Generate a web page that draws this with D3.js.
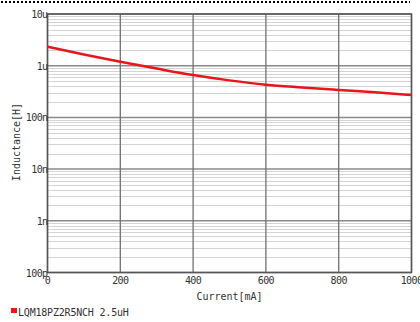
<!DOCTYPE html>
<html><head><meta charset="utf-8">
<script src="https://cdn.jsdelivr.net/npm/d3@7"></script>
<style>body{margin:0;background:#fff}svg{display:block}text{font-family:"DejaVu Sans Mono","Liberation Mono",monospace;fill:#333}</style>
</head><body><svg id="c" width="420" height="322"></svg>
<script>
const currents = [0, 100, 200, 300, 400, 500, 600, 700, 800, 900, 1000];
const inductance = [2.33e-6, 1.65e-6, 1.19e-6, 0.88e-6, 0.66e-6, 0.52e-6, 0.43e-6, 0.38e-6, 0.34e-6, 0.305e-6, 0.27e-6];
const xTicks = [0, 200, 400, 600, 800, 1000];
const yTicks = [1e-10, 1e-9, 1e-8, 1e-7, 1e-6, 1e-5];
const yTickLabels = ["100p", "1n", "10n", "100n", "1u", "10u"];
const seriesName = "LQM18PZ2R5NCH 2.5uH";

const svg = d3.select("#c");
const L = 47.5, R = 411.5, T = 14, B = 272.5;
const x = d3.scaleLinear().domain([0, 1000]).range([L, R]);
const y = d3.scaleLog().domain([1e-10, 1e-5]).range([B, T]);

// top dotted line
svg.append("line").attr("x1", 1).attr("x2", 410).attr("y1", 2).attr("y2", 2)
  .attr("stroke", "#000").attr("stroke-width", 2).attr("stroke-dasharray", "2,2");

// minor grid
const minor = [];
for (let e = -10; e < -5; e++) for (let m = 2; m <= 9; m++) minor.push(m * Math.pow(10, e));
svg.append("g").selectAll("line").data(minor).join("line")
  .attr("x1", L).attr("x2", R).attr("y1", d => Math.round(y(d)) + 0.5).attr("y2", d => Math.round(y(d)) + 0.5)
  .attr("stroke", "#d4d4d4").attr("stroke-width", 1);
// major grid
svg.append("g").selectAll("line").data(yTicks).join("line")
  .attr("x1", L).attr("x2", R).attr("y1", d => y(d)).attr("y2", d => y(d))
  .attr("stroke", "#8a8a8a").attr("stroke-width", 1.5);
svg.append("g").selectAll("line").data(xTicks).join("line")
  .attr("y1", T).attr("y2", B).attr("x1", d => x(d)).attr("x2", d => x(d))
  .attr("stroke", "#707070").attr("stroke-width", 1.3);
// frame
svg.append("rect").attr("x", L).attr("y", T).attr("width", R - L).attr("height", B - T)
  .attr("fill", "none").attr("stroke", "#555").attr("stroke-width", 1.5);

// axes labels
svg.append("g").selectAll("text").data(yTicks).join("text")
  .attr("x", L).attr("y", d => y(d) + 4).attr("text-anchor", "end")
  .attr("font-size", 10).attr("letter-spacing", -0.6).text((d, i) => yTickLabels[i]);
svg.append("g").selectAll("text").data(xTicks).join("text")
  .attr("x", d => x(d)).attr("y", B + 11).attr("text-anchor", "middle")
  .attr("font-size", 10).attr("letter-spacing", -0.6).text(d => d);
svg.append("text").attr("x", (L + R) / 2).attr("y", 300).attr("text-anchor", "middle")
  .attr("font-size", 10).text("Current[mA]");
svg.append("text").attr("transform", `translate(20,142) rotate(-90)`).attr("text-anchor", "middle")
  .attr("font-size", 10).text("Inductance[H]");

// curve
const line = d3.line().x((d, i) => x(currents[i])).y(d => y(d)).curve(d3.curveMonotoneX);
svg.append("path").datum(inductance).attr("d", line)
  .attr("fill", "none").attr("stroke", "#e8161b").attr("stroke-width", 2.5);

// legend
svg.append("rect").attr("x", 11).attr("y", 308).attr("width", 6).attr("height", 5).attr("fill", "#e8161b");
svg.append("text").attr("x", 18).attr("y", 316).attr("font-size", 10).attr("letter-spacing", -0.2).text(seriesName);
</script></body></html>
